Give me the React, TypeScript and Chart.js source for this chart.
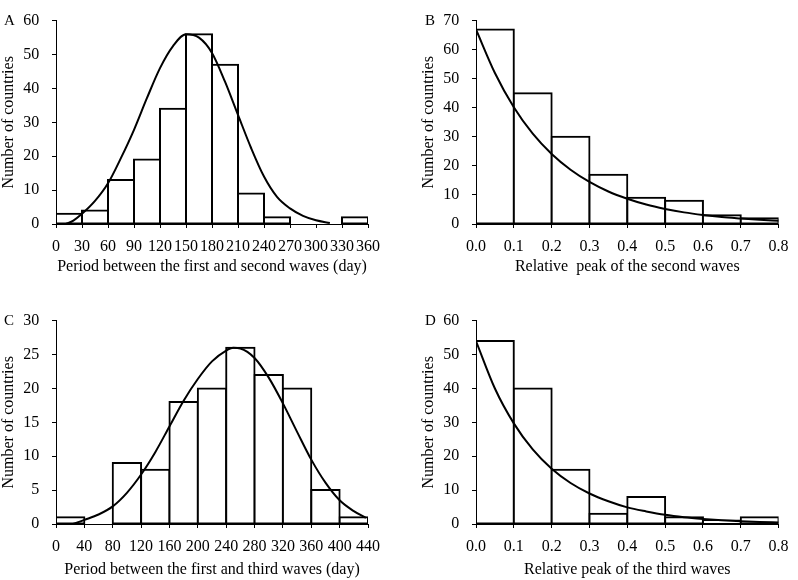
import React, { useEffect, useRef } from "react";
import { Chart, registerables } from "chart.js";

Chart.register(...registerables);

const FONT = '"Liberation Serif", "Times New Roman", serif';
const FS = 16;

// ---------- Panel A: period between first and second waves ----------
const aBinEdges = [0, 30, 60, 90, 120, 150, 180, 210, 240, 270, 300, 330, 360];
const aCounts = [3, 4, 13, 19, 34, 56, 47, 9, 2, 0, 0, 2];
const aCurveX = [11.5, 20, 30, 45, 60, 75, 90, 105, 120, 135, 150, 165, 180, 195, 210, 225, 240, 255, 270, 285, 300, 316];
const aCurveY = [0, 1.0, 3.0, 6.8, 12, 19.5, 27.8, 37.2, 46, 52.5, 56, 55, 50.5, 42, 32.2, 22.5, 14, 8, 4.6, 2.4, 1.1, 0.3];

// ---------- Panel B: relative peak of second waves ----------
const bBinEdges = [0, 0.1, 0.2, 0.3, 0.4, 0.5, 0.6, 0.7, 0.8];
const bCounts = [67, 45, 30, 17, 9, 8, 3, 2];
const bCurveX = [0, 0.05, 0.1, 0.15, 0.2, 0.25, 0.3, 0.35, 0.4, 0.45, 0.5, 0.55, 0.6, 0.65, 0.7, 0.75, 0.8];
const bCurveY = [67, 52, 40.2, 31.1, 24.1, 18.7, 14.5, 11.2, 8.7, 6.7, 5.2, 4.0, 3.1, 2.4, 1.9, 1.45, 1.1];

// ---------- Panel C: period between first and third waves ----------
const cBinEdges = [0, 40, 80, 120, 160, 200, 240, 280, 320, 360, 400, 440];
const cCounts = [1, 0, 9, 8, 18, 20, 26, 22, 20, 5, 1];
const cCurveX = [24, 40, 60, 80, 100, 120, 140, 160, 180, 200, 220, 240, 250, 260, 280, 300, 320, 340, 360, 380, 400, 420, 437];
const cCurveY = [0, 0.6, 1.4, 2.6, 4.6, 7.3, 10.6, 14.4, 18.2, 21.4, 24.0, 25.6, 26, 25.9, 24.5, 21.6, 17.8, 13.6, 9.5, 6.1, 3.5, 1.9, 0.9];

// ---------- Panel D: relative peak of third waves ----------
const dBinEdges = [0, 0.1, 0.2, 0.3, 0.4, 0.5, 0.6, 0.7, 0.8];
const dCounts = [54, 40, 16, 3, 8, 2, 1, 2];
const dCurveX = [0, 0.05, 0.1, 0.15, 0.2, 0.25, 0.3, 0.35, 0.4, 0.45, 0.5, 0.55, 0.6, 0.65, 0.7, 0.75, 0.8];
const dCurveY = [54, 40, 29.7, 22, 16.3, 12.1, 9.0, 6.7, 4.9, 3.7, 2.7, 2.0, 1.5, 1.1, 0.8, 0.6, 0.45];

const yTitle = "Number of countries";
const xTitles = [
  "Period between the first and second waves (day)",
  "Relative  peak of the second waves",
  "Period between the first and third waves (day)",
  "Relative peak of the third waves",
];
const letters = ["A", "B", "C", "D"];

type Panel = {
  letter: string;
  edges: number[];
  counts: number[];
  curveX: number[];
  curveY: number[];
  xMax: number;
  xStep: number;
  decimals: number;
  yMax: number;
  yStep: number;
  xTitle: string;
  left: number;
  top: number;
  width: number;
  height: number;
  padTop: number;
  padRight: number;
  xAxisH: number;
  xTitlePad: number;
  letterX: number;
};

const panels: Panel[] = [
  { letter: letters[0], edges: aBinEdges, counts: aCounts, curveX: aCurveX, curveY: aCurveY, xMax: 360, xStep: 30, decimals: 0, yMax: 60, yStep: 10, xTitle: xTitles[0], left: 0, top: 0, width: 399, height: 290, padTop: 8.3, padRight: 31, xAxisH: 66, xTitlePad: 14, letterX: 4 },
  { letter: letters[1], edges: bBinEdges, counts: bCounts, curveX: bCurveX, curveY: bCurveY, xMax: 0.8, xStep: 0.1, decimals: 1, yMax: 70, yStep: 10, xTitle: xTitles[1], left: 420, top: 0, width: 378, height: 290, padTop: 8.3, padRight: 10, xAxisH: 66, xTitlePad: 14, letterX: 5 },
  { letter: letters[2], edges: cBinEdges, counts: cCounts, curveX: cCurveX, curveY: cCurveY, xMax: 440, xStep: 40, decimals: 0, yMax: 30, yStep: 5, xTitle: xTitles[2], left: 0, top: 300, width: 399, height: 280, padTop: 9.5, padRight: 31, xAxisH: 56, xTitlePad: 0.5, letterX: 4 },
  { letter: letters[3], edges: dBinEdges, counts: dCounts, curveX: dCurveX, curveY: dCurveY, xMax: 0.8, xStep: 0.1, decimals: 1, yMax: 60, yStep: 10, xTitle: xTitles[3], left: 420, top: 300, width: 378, height: 280, padTop: 9.5, padRight: 10, xAxisH: 56, xTitlePad: 0.5, letterX: 5 },
];

const letterPlugin = {
  id: "panelLetter",
  afterDraw(chart: any, _args: any, opts: any) {
    const { ctx, chartArea } = chart;
    ctx.save();
    ctx.font = `15px ${FONT}`;
    ctx.fillStyle = "#000";
    ctx.textBaseline = "middle";
    ctx.textAlign = "left";
    ctx.fillText(opts.text, opts.x, chartArea.top + 0.5);
    ctx.restore();
  },
};

function HistPanel({ p }: { p: Panel }) {
  const ref = useRef<HTMLCanvasElement | null>(null);
  useEffect(() => {
    if (!ref.current) return;
    const bars = p.counts.map((c, i) => ({ x: (p.edges[i] + p.edges[i + 1]) / 2, y: c }));
    const curve = p.curveX.map((x, i) => ({ x, y: p.curveY[i] }));
    const chart = new Chart(ref.current, {
      type: "bar",
      data: {
        datasets: [
          {
            type: "line",
            data: curve,
            borderColor: "#000",
            borderWidth: 2,
            pointRadius: 0,
            fill: false,
            cubicInterpolationMode: "monotone",
            order: 0,
          } as any,
          {
            type: "bar",
            data: bars,
            backgroundColor: "#fff",
            borderColor: "#000",
            borderWidth: 2,
            borderSkipped: false,
            inflateAmount: 1,
            barPercentage: 1,
            categoryPercentage: 1,
            order: 1,
          } as any,
        ],
      },
      options: {
        responsive: false,
        animation: false,
        events: [],
        layout: { padding: { top: p.padTop, right: p.padRight, left: 0, bottom: 0 } },
        plugins: {
          legend: { display: false },
          tooltip: { enabled: false },
          panelLetter: { text: p.letter, x: p.letterX },
        } as any,
        scales: {
          x: {
            type: "linear",
            min: 0,
            max: p.xMax,
            offset: false,
            grid: { display: true, drawOnChartArea: false, drawTicks: true, tickLength: 4, color: "#000", offset: false },
            border: { display: true, color: "#000", width: 1 },
            ticks: {
              stepSize: p.xStep,
              autoSkip: false,
              maxRotation: 0,
              minRotation: 0,
              padding: 9.4,
              color: "#000",
              font: { family: FONT, size: FS },
              callback: (v: any) => Number(v).toFixed(p.decimals),
            },
            title: {
              display: true,
              text: p.xTitle,
              color: "#000",
              font: { family: FONT, size: FS },
              padding: { top: 0, bottom: p.xTitlePad },
            },
            afterFit: (s: any) => {
              s.height = p.xAxisH;
            },
          },
          y: {
            type: "linear",
            min: 0,
            max: p.yMax,
            grid: { display: true, drawOnChartArea: false, drawTicks: true, tickLength: 4, color: "#000" },
            border: { display: true, color: "#000", width: 1 },
            ticks: {
              stepSize: p.yStep,
              padding: 12.7,
              color: "#000",
              font: { family: FONT, size: FS, lineHeight: 1 },
            },
            title: {
              display: true,
              text: yTitle,
              color: "#000",
              font: { family: FONT, size: FS },
              padding: { top: -1.3, bottom: 0 },
            },
            afterFit: (s: any) => {
              s.width = 56;
            },
          },
        } as any,
      },
      plugins: [letterPlugin as any],
    });
    return () => chart.destroy();
  }, [p]);
  return (
    <canvas
      ref={ref}
      width={p.width}
      height={p.height}
      style={{ position: "absolute", left: p.left, top: p.top, width: p.width, height: p.height, display: "block" }}
    />
  );
}

export default function App() {
  return (
    <div style={{ position: "absolute", left: 0, top: 0, width: 798, height: 580, background: "#fff", overflow: "hidden" }}>
      {panels.map((p) => (
        <HistPanel key={p.letter} p={p} />
      ))}
    </div>
  );
}
